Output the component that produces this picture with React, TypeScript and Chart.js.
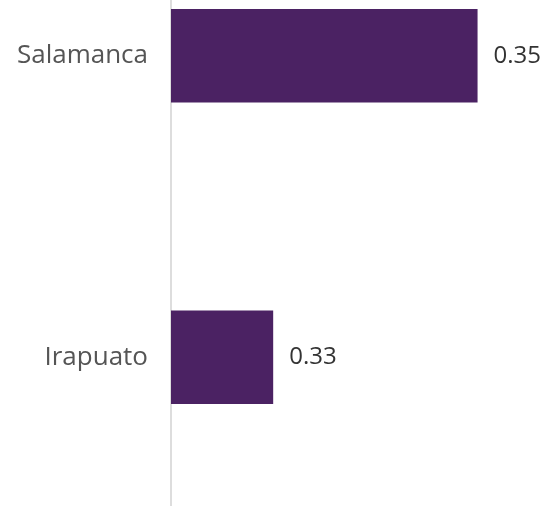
import React, { useEffect, useRef } from "react";
import { Chart, registerables } from "chart.js";

Chart.register(...registerables);

const categories = ["Salamanca", "Irapuato"];
const values = [0.35, 0.33];
const valueLabels = ["0.35", "0.33"];
const axisMin = 0.32;
const axisMax = 0.3566;

const barColor = "#4b2263";

const valueLabelPlugin = {
  id: "valueLabels",
  afterDatasetsDraw(chart: any) {
    const { ctx } = chart;
    const meta = chart.getDatasetMeta(0);
    ctx.save();
    ctx.font = "400 24px 'Open Sans', sans-serif";
    ctx.fillStyle = "#333333";
    ctx.textAlign = "left";
    ctx.textBaseline = "middle";
    meta.data.forEach((bar: any, i: number) => {
      ctx.fillText(valueLabels[i], bar.x + 16, bar.y);
    });
    ctx.restore();
  },
};

export default function App() {
  const ref = useRef<HTMLCanvasElement>(null);
  useEffect(() => {
    if (!ref.current) return;
    const chart = new Chart(ref.current, {
      type: "bar",
      data: {
        labels: categories,
        datasets: [
          {
            data: values,
            backgroundColor: barColor,
            borderWidth: 0,
            barPercentage: 0.62,
            categoryPercentage: 0.5,
          },
        ],
      },
      options: {
        indexAxis: "y",
        animation: false,
        responsive: false,
        maintainAspectRatio: false,
        layout: { padding: 0 },
        plugins: { legend: { display: false }, tooltip: { enabled: false } },
        scales: {
          x: {
            min: axisMin,
            max: axisMax,
            display: false,
            grid: { display: false },
          },
          y: {
            afterFit(scale: any) {
              scale.width = 171;
              scale.paddingTop = 0;
              scale.paddingBottom = 0;
            },
            grid: { display: false, drawTicks: false },
            border: { display: true, color: "#dddddd", width: 2 },
            ticks: {
              padding: 23,
              color: "#555555",
              font: { family: "'Open Sans', sans-serif", size: 26 },
            },
          },
        },
      },
      plugins: [valueLabelPlugin],
    });
    return () => chart.destroy();
  }, []);
  return (
    <div
      style={{
        position: "fixed",
        left: 0,
        top: 0,
        width: 545,
        height: 506,
        overflow: "hidden",
        background: "#fff",
      }}
    >
      <canvas
        ref={ref}
        width={545}
        height={603}
        style={{ position: "absolute", left: 0, top: -95, width: 545, height: 603 }}
      />
    </div>
  );
}
